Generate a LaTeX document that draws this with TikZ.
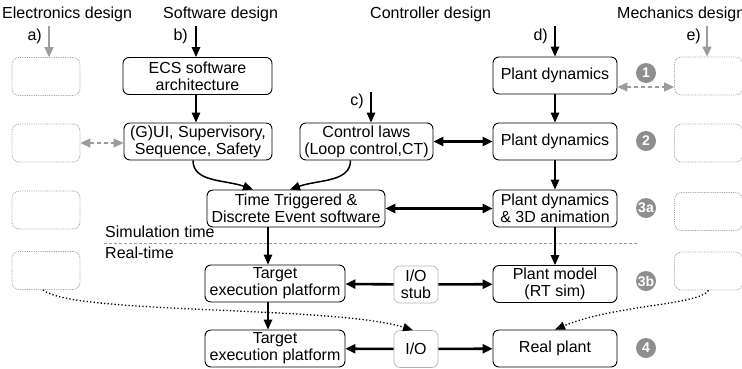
\documentclass[tikz,border=0pt]{standalone}
\usepackage{fontspec}
\setmainfont{Liberation Sans}
\usepackage{tikz}
\usetikzlibrary{arrows.meta}
\definecolor{stepgray}{HTML}{8E8E8E}
\definecolor{ghostgray}{HTML}{9C9C9C}
\tikzstyle{block} = [rectangle, rounded corners=6pt, 
minimum height=37pt,
text centered, 
align=center,
inner sep=1pt,
draw=black, 
line width=0.9pt]
\tikzstyle{ghost} = [rectangle, rounded corners=7pt, 
minimum width=68pt, 
minimum height=38pt, 
draw=ghostgray, 
densely dotted, 
line width=0.8pt]
\tikzstyle{iobox} = [rectangle, rounded corners=6pt, 
minimum width=44pt, 
minimum height=37pt, 
align=center, 
inner sep=1pt, 
draw=gray!60, 
line width=0.6pt]
\tikzstyle{stepnum} = [circle, fill=stepgray, text=white, 
font=\fontsize{14}{14}\selectfont\bfseries, 
minimum size=20pt, inner sep=0pt]
\tikzstyle{arrow} = [line width=1.5pt, -{Triangle[length=10pt,width=8.5pt]}]
\tikzstyle{wide} = [line width=2.6pt, -{Triangle[length=10pt,width=9pt]}]
\tikzstyle{duplex} = [line width=2.6pt, {Triangle[length=10pt,width=9pt]}-{Triangle[length=10pt,width=9pt]}]
\tikzstyle{ghostarrow} = [draw=ghostgray, fill=ghostgray, line width=1.4pt, dash pattern=on 4pt off 3pt, 
{Triangle[length=10pt,width=9pt]}-{Triangle[length=10pt,width=9pt]}]
\tikzstyle{ghostin} = [draw=ghostgray, fill=ghostgray, line width=1.4pt, -{Triangle[length=10pt,width=9pt]}]
\tikzstyle{dotlink} = [line width=1.3pt, dash pattern=on 1.3pt off 2.2pt, -{Triangle[length=10pt,width=8pt]}]

\begin{document}
\begin{tikzpicture}[x=1pt, y=-1pt, font=\fontsize{16}{17}\selectfont]
\useasboundingbox (0,0) rectangle (742,368);

% design columns
\node (elec) [anchor=west, inner sep=0pt] at (2,14) {Electronics design};
\node (soft) [anchor=west, inner sep=0pt] at (163,14) {Software design};
\node (cont) [anchor=west, inner sep=0pt] at (370,14) {Controller design};
\node (mech) [anchor=west, inner sep=0pt] at (617,14) {Mechanics design};

\node (la) [anchor=east, inner sep=0pt] at (42,36) {a)};
\node (lb) [anchor=east, inner sep=0pt] at (188,36) {b)};
\node (lc) [anchor=east, inner sep=0pt] at (364,101) {c)};
\node (ld) [anchor=east, inner sep=0pt] at (548,36) {d)};
\node (le) [anchor=east, inner sep=0pt] at (701,36) {e)};
\coordinate (ina) at (49,26);
\coordinate (inb) at (196,26);
\coordinate (inc) at (371,92);
\coordinate (ind) at (555,26);
\coordinate (ine) at (707,26);

% level 1
\node (ecs) [block, minimum width=149pt] at (197.5,76) {ECS software\\architecture};
\node (pd1) [block, minimum width=124pt] at (555,75.5) {Plant dynamics};
% level 2
\node (gui) [block, minimum width=148pt] at (198,141.5) {(G)UI, Supervisory,\\Sequence, Safety};
\node (ctrl) [block, minimum width=133pt] at (366.5,141.5) {Control laws\\(Loop control,CT)};
\node (pd2) [block, minimum width=124pt] at (555,141.5) {Plant dynamics};
% level 3a
\node (tt) [block, minimum width=178pt] at (296,208.5) {Time Triggered \&\\Discrete Event software};
\node (pd3) [block, minimum width=124pt] at (555,208.5) {Plant dynamics\\\& 3D animation};
% level 3b
\node (tgt1) [block, minimum width=140pt] at (275,283.5) {Target\\execution platform};
\node (stub) [iobox] at (416,284.5) {I/O\\stub};
\node (pm) [block, minimum width=124pt] at (555,284) {Plant model\\(RT sim)};
% level 4
\node (tgt2) [block, minimum width=140pt] at (275,348.5) {Target\\execution platform};
\node (io) [iobox] at (416,349) {I/O};
\node (real) [block, minimum width=124pt] at (555,348.5) {Real plant};

% electronics / mechanics placeholders
\node (gl1) [ghost] at (46,76.5) {};
\node (gl2) [ghost] at (46,143) {};
\node (gl3) [ghost] at (46,210) {};
\node (gl4) [ghost] at (46,270.5) {};
\node (gr1) [ghost] at (708.5,76) {};
\node (gr2) [ghost] at (708.5,143) {};
\node (gr3) [ghost] at (708.5,211.5) {};
\node (gr4) [ghost] at (708.5,271) {};

% step numbers
\node (s1) [stepnum] at (646,73) {1};
\node (s2) [stepnum] at (646,141) {2};
\node (s3a) [stepnum] at (646,208) {3a};
\node (s3b) [stepnum] at (646,281) {3b};
\node (s4) [stepnum] at (646,348) {4};

% simulation / real-time split
\draw [ghostgray, line width=0.6pt, dash pattern=on 3pt off 2pt] (104,243) -- (637,243);
\node (simt) [anchor=west, inner sep=0pt] at (105,232) {Simulation time};
\node (realt) [anchor=west, inner sep=0pt] at (105,253) {Real-time};

\draw [ghostin] (ina) -- (gl1.north -| ina);
\draw [arrow] (inb) -- (ecs.north -| inb);
\draw [arrow] (inc) -- (ctrl.north -| inc);
\draw [arrow] (ind) -- (pd1);
\draw [ghostin] (ine) -- (gr1.north -| ine);

\draw [ghostarrow] (pd1.east |- 0,87) -- (gr1.west |- 0,87);
\draw [ghostarrow] (gl2.east) -- (gui.west |- gl2.east);

\draw [arrow] (ecs.south -| inb) -- (gui.north -| inb);
\draw [arrow] (pd1) -- (pd2);
\draw [duplex] (ctrl) -- (pd2);
\draw [arrow] ([xshift=-5pt]gui.south) .. controls +(0,22) and +(-28,-10) .. ([xshift=-43pt]tt.north);
\draw [arrow] ([xshift=-16pt]ctrl.south) .. controls +(0,22) and +(28,-10) .. ([xshift=-6pt]tt.north);
\draw [arrow] (pd2) -- (pd3);
\draw [duplex] (tt) -- (pd3);
\draw [arrow] ([xshift=-28pt]tt.south) -- ([xshift=-7pt]tgt1.north);
\draw [arrow] (pd3) -- (pm);
\draw [wide] (stub) -- (tgt1);
\draw [wide] (stub) -- (pm);
\draw [arrow] ([xshift=-7pt]tgt1.south) -- ([xshift=-7pt]tgt2.north);
\draw [wide] (io) -- (tgt2);
\draw [wide] (io) -- (real);

\draw [dotlink] ([xshift=-3pt]gl4.south) .. controls +(30,25) and +(-80,-25) .. ([xshift=-3pt]io.north);
\draw [dotlink] (gr4.south) .. controls +(-10,15) and +(60,-25) .. (real.north);

\end{tikzpicture}
\end{document}
